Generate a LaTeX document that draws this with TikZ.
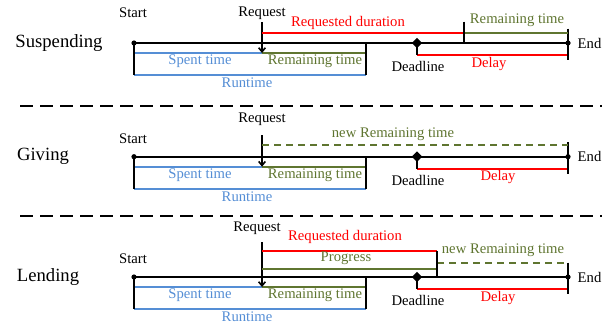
\documentclass[tikz,border=0pt]{standalone}
\usepackage{fontspec}
\setmainfont{Liberation Serif}
\usetikzlibrary{arrows.meta, shapes.geometric}
\definecolor{durred}{RGB}{255,0,0}
\definecolor{remgreen}{RGB}{95,117,48}
\definecolor{spentblue}{RGB}{85,142,213}

\begin{document}
\begin{tikzpicture}[x=0.75pt, y=-0.75pt, font=\fontsize{11}{13}\selectfont,
	axis/.style={line width=1.5pt},
	seg/.style={line width=1.2pt},
	reqarrow/.style={line width=1.2pt, -{Straight Barb[length=3pt, width=5pt]}},
	panel/.style={font=\fontsize{14}{16}\selectfont},
	newrem/.style={seg, remgreen, dash pattern=on 5.25pt off 3.75pt},
	sep/.style={line width=1.5pt, dash pattern=on 9.75pt off 5.25pt},
	dlmark/.style={diamond, fill, inner sep=0pt, minimum size=8pt}]
	
	\useasboundingbox (0,0) rectangle (605,329);
	
	% common part of each timeline
	\foreach \p/\y/\name/\nx/\sy/\dx in {s/43/Suspending/59/13/489, g/156.7/Giving/43/139/498, l/277/Lending/48/259/498}{
		\coordinate (\p-start) at (134,\y);
		\coordinate (\p-sb) at (134,\y+10);
		\coordinate (\p-rb) at (134,\y+32);
		\coordinate (\p-req) at (262,\y+10);
		\coordinate (\p-cut) at (366,\y);
		\coordinate (\p-cb) at (366,\y+10);
		\coordinate (\p-ce) at (366,\y+32);
		\coordinate (\p-dl) at (417,\y);
		\coordinate (\p-db) at (417,\y+12);
		\coordinate (\p-end) at (568,\y);
		\coordinate (\p-eb) at (568,\y+12);
		\coordinate (\p-et) at (568,\y-14.5);
		\coordinate (\p-ee) at (568,\y+17);
		
		\draw[seg, spentblue] (\p-sb) -- (\p-req);
		\draw[seg, remgreen] (\p-req) -- (\p-cb);
		\draw[seg, spentblue] (\p-rb) -- (\p-ce);
		\draw[seg, durred] (\p-db) -- (\p-eb);
		\draw[axis] (\p-start) -- (\p-rb);
		\draw[axis] (\p-cut) -- (\p-ce);
		\draw[axis] (\p-start) -- (\p-end);
		\draw[seg] (\p-et) -- (\p-ee);
		\draw[seg] (\p-dl) -- (\p-db);
		\fill (\p-start) circle (2.6);
		\fill (\p-end) circle (2.6);
		\node[dlmark] (\p-dlm) at (\p-dl) {};
		
		\node[panel] (\p-name) at (\nx,\y) {\name};
		\node (\p-startlbl) at (133,\sy) {Start};
		\node[anchor=west] (\p-endlbl) at (573,\y) {End};
		\node[text=spentblue] (\p-spent) at (200,\y+18.5) {Spent time};
		\node[text=remgreen] (\p-rem) at (315,\y+18.5) {Remaining time};
		\node[text=spentblue] (\p-run) at (247,\y+40) {Runtime};
		\node (\p-dllbl) at (418,\y+23.5) {Deadline};
		\node[text=durred] (\p-delay) at (\dx,\y+20.5) {Delay};
	}
	
	% Suspending
	\node (s-reqlbl) at (262,13) {Request};
	\coordinate (s-rq) at (262,22);
	\draw[reqarrow] (s-rq) -- (s-req);
	\coordinate (s-d0) at (262,32.7);
	\coordinate (s-d1) at (464,32.7);
	\coordinate (s-d2) at (568,32.7);
	\coordinate (s-tt) at (464,21.7);
	\coordinate (s-tb) at (464,43);
	\draw[seg, durred] (s-d0) -- (s-d1);
	\draw[seg, remgreen] (s-d1) -- (s-d2);
	\draw[seg] (s-tt) -- (s-tb);
	\node[text=durred] (s-durlbl) at (348,23) {Requested duration};
	\node[text=remgreen] (s-remlbl) at (517,20) {Remaining time};
	
	\draw[sep] (20,106) -- (602,106);
	
	% Giving
	\node (g-reqlbl) at (262,119) {Request};
	\coordinate (g-rq) at (262,135);
	\draw[reqarrow] (g-rq) -- (g-req);
	\coordinate (g-n0) at (262,145);
	\coordinate (g-n1) at (568,145);
	\draw[newrem] (g-n0) -- (g-n1);
	\node[text=remgreen] (g-newlbl) at (393,134) {new Remaining time};
	
	\draw[sep] (20,216) -- (602,216);
	
	% Lending
	\node (l-reqlbl) at (257,228) {Request};
	\coordinate (l-rq) at (262,242);
	\draw[reqarrow] (l-rq) -- (l-req);
	\coordinate (l-d0) at (262,251);
	\coordinate (l-d1) at (437,251);
	\coordinate (l-p0) at (262,269);
	\coordinate (l-p1) at (437,269);
	\coordinate (l-cut) at (437,277);
	\coordinate (l-n0) at (437,263);
	\coordinate (l-n1) at (568,263);
	\draw[seg, durred] (l-d0) -- (l-d1);
	\draw[seg, remgreen] (l-p0) -- (l-p1);
	\draw[newrem] (l-n0) -- (l-n1);
	\draw[seg] (l-d1) -- (l-cut);
	\node[text=durred] (l-durlbl) at (345,237) {Requested duration};
	\node[text=remgreen] (l-proglbl) at (346,258) {Progress};
	\node[text=remgreen] (l-newlbl) at (503,250) {new Remaining time};
\end{tikzpicture}
\end{document}
